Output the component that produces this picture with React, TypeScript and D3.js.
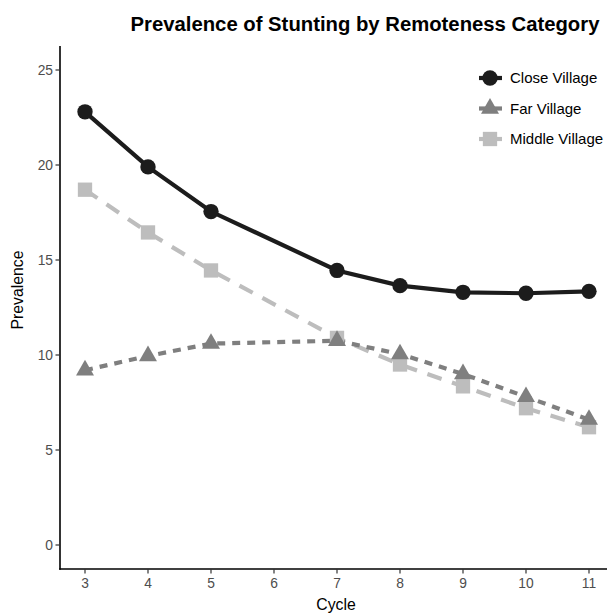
import React from "react";
import * as d3 from "d3";

const cycles = [3, 4, 5, 7, 8, 9, 10, 11];
const closeVillage = [22.8, 19.9, 17.55, 14.45, 13.65, 13.3, 13.25, 13.35];
const farVillage = [9.2, 9.95, 10.6, 10.75, 10.05, 9.0, 7.8, 6.6];
const middleVillage = [18.7, 16.45, 14.45, 10.9, 9.5, 8.35, 7.2, 6.2];
const xTicks = [3, 4, 5, 6, 7, 8, 9, 10, 11];
const yTicks = [0, 5, 10, 15, 20, 25];
const seriesNames = ["Close Village", "Far Village", "Middle Village"];

const W = 607;
const H = 614;
const FONT = "'Liberation Sans', Arial, Helvetica, sans-serif";

export default function App() {
  const x = d3.scaleLinear().domain([3, 11]).range([85, 589]);
  const y = d3.scaleLinear().domain([0, 25]).range([545, 70]);
  const xLeft = 60;
  const yBottom = 569;
  const yTop = 46;

  const series = [
    { name: seriesNames[2], values: middleVillage, color: "#bdbdbd", dash: "15,11", shape: d3.symbolSquare, size: 205 },
    { name: seriesNames[1], values: farVillage, color: "#7f7f7f", dash: "8,7", shape: d3.symbolTriangle, size: 140 },
    { name: seriesNames[0], values: closeVillage, color: "#1c1c1c", dash: null, shape: d3.symbolCircle, size: 185 },
  ];

  const line = d3
    .line<[number, number]>()
    .x((d) => x(d[0]))
    .y((d) => y(d[1]))
    .curve(d3.curveLinear);

  const legendOrder = [series[2], series[1], series[0]];

  return (
    <svg
      width={W}
      height={H}
      style={{ position: "absolute", left: 0, top: 0, background: "#fff" }}
      fontFamily={FONT}
    >
      <rect x={0} y={0} width={W} height={H} fill="#fff" />
      <text x={365} y={31} textAnchor="middle" fontSize={20.3} fontWeight="bold" fill="#000">
        Prevalence of Stunting by Remoteness Category
      </text>

      {/* axes */}
      <line x1={xLeft} x2={xLeft} y1={yTop} y2={yBottom + 0.8} stroke="#000" strokeWidth={1.6} />
      <line x1={xLeft - 0.8} x2={W} y1={yBottom} y2={yBottom} stroke="#000" strokeWidth={1.6} />

      {yTicks.map((t) => (
        <g key={"y" + t}>
          <line x1={xLeft - 4.5} x2={xLeft} y1={y(t)} y2={y(t)} stroke="#333" strokeWidth={1.2} />
          <text x={53} y={y(t)} dy="0.36em" textAnchor="end" fontSize={13.8} fill="#4d4d4d">
            {t}
          </text>
        </g>
      ))}
      {xTicks.map((t) => (
        <g key={"x" + t}>
          <line x1={x(t)} x2={x(t)} y1={yBottom} y2={yBottom + 4.5} stroke="#333" strokeWidth={1.2} />
          <text x={x(t)} y={588} textAnchor="middle" fontSize={13.8} fill="#4d4d4d">
            {t}
          </text>
        </g>
      ))}

      <text x={336} y={610} textAnchor="middle" fontSize={15.8} fill="#000">
        Cycle
      </text>
      <text
        transform={`translate(23,290) rotate(-90)`}
        textAnchor="middle"
        fontSize={15.8}
        fill="#000"
      >
        Prevalence
      </text>

      {/* lines */}
      {series.map((s) => (
        <path
          key={"l" + s.name}
          d={line(cycles.map((c, i) => [c, s.values[i]] as [number, number])) || ""}
          fill="none"
          stroke={s.color}
          strokeWidth={4.2}
          strokeDasharray={s.dash || undefined}
        />
      ))}
      {/* points */}
      {series.map((s) => (
        <g key={"p" + s.name}>
          {cycles.map((c, i) => (
            <path
              key={c}
              transform={`translate(${x(c)},${y(s.values[i])})`}
              d={d3.symbol().type(s.shape).size(s.size)() || ""}
              fill={s.color}
            />
          ))}
        </g>
      ))}

      {/* legend */}
      {legendOrder.map((s, i) => {
        const ly = 78 + i * 30.5;
        return (
          <g key={"lg" + s.name}>
            <line x1={479} x2={502} y1={ly} y2={ly} stroke={s.color} strokeWidth={4.2} />
            <path
              transform={`translate(490,${ly})`}
              d={d3.symbol().type(s.shape).size(s.size)() || ""}
              fill={s.color}
            />
            <text x={510} y={ly} dy="0.36em" fontSize={15} fill="#000">
              {s.name}
            </text>
          </g>
        );
      })}
    </svg>
  );
}
